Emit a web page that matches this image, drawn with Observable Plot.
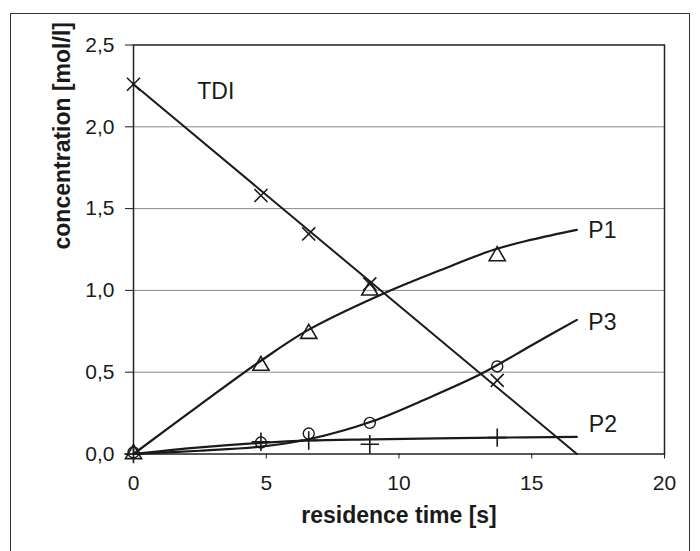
<!DOCTYPE html>
<html>
<head>
<meta charset="utf-8">
<script src="https://cdn.jsdelivr.net/npm/d3@7"></script>
<script src="https://cdn.jsdelivr.net/npm/@observablehq/plot@0.6"></script>
<style>
  html, body { margin: 0; padding: 0; background: #fff; overflow: hidden; }
  #wrap { position: relative; width: 700px; height: 551px; overflow: hidden; }
  #border { position: absolute; left: 10px; top: 13px; width: 680px; height: 600px;
            border: 1.5px solid #333; box-sizing: border-box; }
  #chart { position: absolute; left: 0; top: 0; }
</style>
</head>
<body>
<div id="wrap"><div id="border"></div><div id="chart"></div></div>
<script>
// Measured points (residence time in s, concentration in mol/l)
const timesMeasured = [0, 4.8, 6.6, 8.9, 13.7];
const tdiMeasured = [2.26, 1.58, 1.345, 1.04, 0.45];
const p1Measured  = [0.0, 0.54, 0.735, 1.0, 1.21];
const p2Measured  = [0.0, 0.075, 0.083, 0.06, 0.10];
const p3Measured  = [0.01, 0.07, 0.125, 0.19, 0.535];

// Model curves
const tdiFitT = [0, 16.7];
const tdiFit  = [2.26, 0.0];
const p1FitT = [0, 2.5, 4.8, 6.6, 9.4, 11.5, 13.6, 15, 16.7];
const p1Fit  = [0, 0.3, 0.57, 0.76, 0.98, 1.12, 1.25, 1.31, 1.37];
const p2FitT = [0, 2.5, 4.8, 6.6, 9, 13.6, 16.7];
const p2Fit  = [0, 0.04, 0.068, 0.083, 0.09, 0.1, 0.105];
const p3FitT = [0, 2.5, 4.8, 6.6, 9, 11, 13.1, 15, 16.7];
const p3Fit  = [0, 0.02, 0.045, 0.09, 0.2, 0.335, 0.49, 0.665, 0.82];

// Series labels
const labelNames = ["TDI", "P1", "P3", "P2"];
const labelX = [2.4, 17.13, 17.13, 17.15];
const labelY = [2.216, 1.363, 0.80, 0.18];

// Ticks
const xTicks = [0, 5, 10, 15, 20];
const yTicks = [0, 0.5, 1.0, 1.5, 2.0, 2.5];
const xTitle = "residence time [s]";
const yTitle = "concentration [mol/l]";

const pts = (t, v) => t.map((d, i) => ({t: d, v: v[i]}));
const FONT = "'Liberation Sans', Arial, sans-serif";
const INK = "#1a1a1a";

const labels = labelNames.map((n, i) => ({name: n, x: labelX[i], y: labelY[i]}));

const chart = Plot.plot({
  width: 700,
  height: 551,
  marginLeft: 133,
  marginRight: 36,
  marginTop: 44.5,
  marginBottom: 97.5,
  style: {fontFamily: FONT, fontSize: "21px", color: INK, background: "transparent"},
  x: {domain: [0, 20]},
  y: {domain: [0, 2.5]},
  marks: [
    Plot.gridY([0.5, 1.0, 1.5, 2.0], {stroke: "#8a8a8a", strokeOpacity: 1, strokeWidth: 1}),
    Plot.frame({stroke: "#222", strokeWidth: 1.5}),
    Plot.axisY(yTicks, {tickSize: 8, tickPadding: 11, tickFormat: d => d3.format(".1f")(d).replace(".", ","), label: null, fontSize: 21, stroke: INK}),
    Plot.axisX(xTicks, {tickSize: 5, tickPadding: 16, tickFormat: d => String(d), label: null, fontSize: 21, stroke: INK}),
    Plot.line(pts(tdiFitT, tdiFit), {x: "t", y: "v", stroke: INK, strokeWidth: 2}),
    Plot.line(pts(p1FitT, p1Fit), {x: "t", y: "v", stroke: INK, strokeWidth: 2.2, curve: "catmull-rom"}),
    Plot.line(pts(p2FitT, p2Fit), {x: "t", y: "v", stroke: INK, strokeWidth: 2.2, curve: "catmull-rom"}),
    Plot.line(pts(p3FitT, p3Fit), {x: "t", y: "v", stroke: INK, strokeWidth: 2.2, curve: "catmull-rom"}),
    Plot.dot(pts(timesMeasured, tdiMeasured), {x: "t", y: "v", symbol: "times", r: 6, stroke: INK, strokeWidth: 1.6}),
    Plot.dot(pts(timesMeasured, p1Measured), {x: "t", y: "v", symbol: "triangle", r: 6, stroke: INK, strokeWidth: 1.6, fill: "none"}),
    Plot.dot(pts(timesMeasured, p2Measured), {x: "t", y: "v", symbol: "plus", r: 6, stroke: INK, strokeWidth: 1.6}),
    Plot.dot(pts(timesMeasured, p3Measured), {x: "t", y: "v", symbol: "circle", r: 5.5, stroke: INK, strokeWidth: 1.4, fill: "none"}),
    Plot.text(labels, {x: "x", y: "y", text: "name", textAnchor: "start", fontSize: 23, fill: INK}),
    Plot.text([yTitle], {frameAnchor: "left", dx: -71, rotate: -90, fontSize: 23, fontWeight: "bold", fill: INK}),
    Plot.text([xTitle], {frameAnchor: "bottom", dy: 69, fontSize: 23, fontWeight: "bold", fill: INK})
  ]
});
document.getElementById("chart").appendChild(chart);
</script>
</body>
</html>
